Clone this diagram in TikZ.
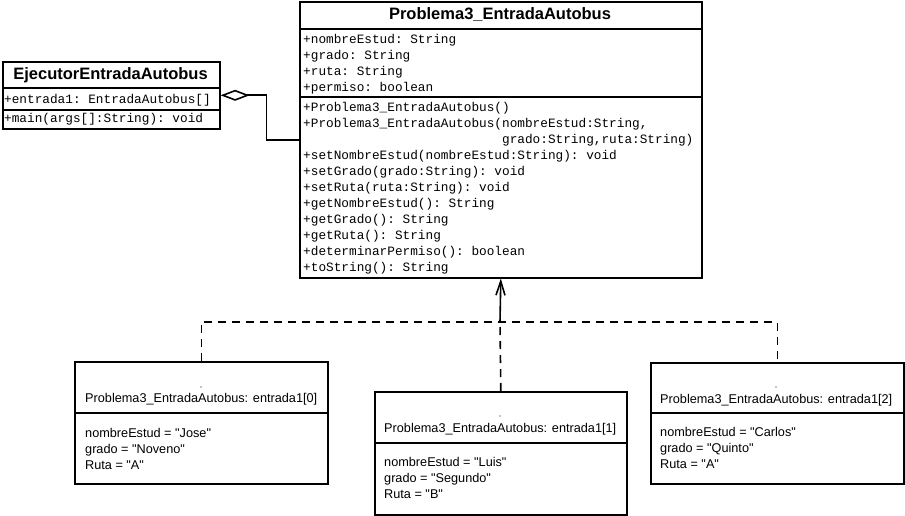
\documentclass[tikz,border=0pt]{standalone}
\usepackage{fontspec}
\setmainfont{Liberation Sans}
\setmonofont{Liberation Mono}
\usetikzlibrary{arrows.meta}
\newcommand{\qt}[1]{\textquotedbl#1\textquotedbl}

\begin{document}
\begin{tikzpicture}[x=1pt,y=-1pt]
\tikzstyle{every node}+=[inner sep=0pt]
\tikzstyle{umlbox}=[draw=black,line width=1.6pt,rectangle,anchor=north west]
\tikzstyle{classname}=[font=\fontsize{16.5}{19}\selectfont\bfseries,anchor=base]
\tikzstyle{member}=[font=\fontsize{12.75}{16}\selectfont\ttfamily,align=left,anchor=base west]
\tikzstyle{slot}=[font=\fontsize{12.7}{16}\selectfont,align=left,anchor=base west]
\tikzstyle{rule}=[line width=1.6pt]
\tikzstyle{realize}=[line width=1.6pt,dash pattern=on 8pt off 6pt]
\useasboundingbox (0,0) rectangle (905,516);
\node[umlbox,minimum width=402pt,minimum height=276pt] (prob) at (299,1) {};
\node[umlbox,minimum width=217pt,minimum height=67pt] (ejec) at (2,61) {};
\node[umlbox,minimum width=253pt,minimum height=122pt] (obj0) at (74,361) {};
\node[umlbox,minimum width=252pt,minimum height=123pt] (obj1) at (374,391) {};
\node[umlbox,minimum width=253pt,minimum height=121pt] (obj2) at (650,362) {};
\draw[rule] (prob.west |- 0,29) -- (prob.east |- 0,29);
\draw[rule] (prob.west |- 0,97) -- (prob.east |- 0,97);
\draw[rule] (ejec.west |- 0,88) -- (ejec.east |- 0,88);
\draw[rule] (ejec.west |- 0,110) -- (ejec.east |- 0,110);
\draw[rule] (obj0.west |- 0,413) -- (obj0.east |- 0,413);
\draw[rule] (obj1.west |- 0,443) -- (obj1.east |- 0,443);
\draw[rule] (obj2.west |- 0,413) -- (obj2.east |- 0,413);
\node[classname] (prob-name) at (500,20) {Problema3\_EntradaAutobus};
\node[member] (prob-attr) at (303,92) {+nombreEstud: String\\+grado: String\\+ruta: String\\+permiso: boolean};
\node[member] (prob-ops) at (303,271) {+Problema3\_EntradaAutobus()\\+Problema3\_EntradaAutobus(nombreEstud:String,\\\phantom{+Problema3\_EntradaAutobus(}grado:String,ruta:String)\\+setNombreEstud(nombreEstud:String): void\\+setGrado(grado:String): void\\+setRuta(ruta:String): void\\+getNombreEstud(): String\\+getGrado(): String\\+getRuta(): String\\+determinarPermiso(): boolean\\+toString(): String};
\node[classname] (ejec-name) at (110.5,80) {EjecutorEntradaAutobus};
\node[member] (ejec-attr) at (4,104) {+entrada1: EntradaAutobus[]};
\node[member] (ejec-ops) at (4,123) {+main(args[]:String): void};
\fill (201,387) circle (0.6);
\fill (500,416) circle (0.6);
\fill (776,387) circle (0.6);
\node[slot] (obj0-name) at (85,402) {Problema3\_EntradaAutobus: entrada1[0]};
\node[slot] (obj0-vals) at (85,469) {nombreEstud = \qt{Jose}\\grado = \qt{Noveno}\\Ruta = \qt{A}};
\node[slot] (obj1-name) at (384,432) {Problema3\_EntradaAutobus: entrada1[1]};
\node[slot] (obj1-vals) at (384,498) {nombreEstud = \qt{Luis}\\grado = \qt{Segundo}\\Ruta = \qt{B}};
\node[slot] (obj2-name) at (660,403) {Problema3\_EntradaAutobus: entrada1[2]};
\node[slot] (obj2-vals) at (660,468) {nombreEstud = \qt{Carlos}\\grado = \qt{Quinto}\\Ruta = \qt{A}};
\draw[rule,{Diamond[open,length=29pt,width=11pt]}-] (ejec.east) -- ++(46,0) |- (prob.west);
\coordinate (join) at (500,322);
\draw[realize] (obj0.north) |- (join) -| (obj2.north);
\draw[realize] (obj1.north) -- (join);
\draw[rule,-{Straight Barb[length=14pt,width=9pt]}] (join) -- (prob.south);
\end{tikzpicture}
\end{document}
